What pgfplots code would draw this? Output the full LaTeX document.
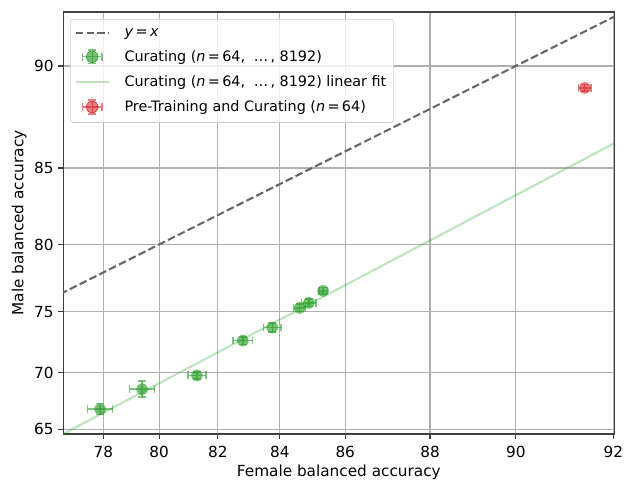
\documentclass[border=0pt]{standalone}
\usepackage{fontspec}
\setmainfont{DejaVu Sans}
\usepackage{pgfplots}
\pgfplotsset{compat=1.18}
\usepackage{pgfplotstable}

\definecolor{cgreen}{HTML}{2CA02C}
\definecolor{cred}{HTML}{D62728}
\definecolor{cgrid}{RGB}{176,176,176}
\definecolor{cdash}{RGB}{102,102,102}

% probit (inverse normal CDF) of a percentage, Abramowitz-Stegun 26.2.23 (values > 50 %)
\newcommand\pbprobit[1]{%
  \pgfmathparse{sqrt(-2*ln(1-(#1)/100))}%
  \edef\pbT{\pgfmathresult}%
  \pgfmathparse{\pbT-(2.515517+0.802853*\pbT+0.010328*\pbT*\pbT)/(1+1.432788*\pbT+0.189269*\pbT*\pbT+0.001308*\pbT*\pbT*\pbT)}%
}

\pgfplotstableread{
x y
77.87 66.81
79.38 68.58
81.25 69.78
82.74 72.70
83.65 73.76
84.47 75.31
84.74 75.70
85.15 76.62
}\curating

\pgfplotstableread{
x y
91.40 89.00
}\pretrain

\begin{document}
\begin{tikzpicture}
\useasboundingbox (-45.6pt,-33.1pt) rectangle (404.4pt,312.4pt);
\begin{axis}[
  at={(0,0)}, anchor=south west,
  scale only axis,
  width=396.7pt, height=303.8pt,
  x coord trafo/.code={\pbprobit{#1}},
  y coord trafo/.code={\pbprobit{#1}},
  xmin=76.5, xmax=92.02,
  ymin=64.57, ymax=92.2,
  xtick={78,80,82,84,86,88,90,92},
  xticklabels={78,80,82,84,86,88,90,92},
  ytick={65,70,75,80,85,90},
  yticklabels={65,70,75,80,85,90},
  /pgf/number format/assume math mode=true,
  tick label style={font=\fontsize{11}{13}\selectfont},
  xticklabel style={yshift=-1.5pt},
  label style={font=\fontsize{11}{13}\selectfont},
  xlabel style={yshift=1.5pt},
  ylabel style={yshift=-1.5pt},
  xlabel={Female balanced accuracy},
  ylabel={Male balanced accuracy},
  grid=major,
  major grid style={cgrid, line width=0.8pt},
  axis line style={black!75, line width=0.9pt},
  tick style={black!75, line width=0.8pt},
  tick align=outside,
  major tick length=3.5pt,
  xtick pos=bottom, ytick pos=left,
  clip=true,
  unbounded coords=jump,
  legend cell align=left,
  legend style={
    at={(0.0122,0.9834)}, anchor=north west,
    draw=black!20, fill=white, fill opacity=0.8, text opacity=1,
    rounded corners=2pt,
    font=\fontsize{10.35}{12.3}\selectfont,
    row sep=4.7pt, inner xsep=3pt, inner ysep=4.5pt,
    /tikz/every odd column/.append style={column sep=8.5pt},
  },
]
\addplot[cdash, line width=1.5pt, dash pattern=on 5.5pt off 2.4pt,
  legend image code/.code={\draw[cdash, line width=1.5pt, dash pattern=on 5.5pt off 2.4pt] (0pt,0pt)--(24pt,0pt);}]
  coordinates {(76.0,76.0) (93.0,93.0)};
\addlegendentry{\textit{y}\,=\,\textit{x}}

\addplot[only marks, mark=*, mark size=4.2pt,
  mark options={draw=cgreen, draw opacity=0, fill=cgreen, fill opacity=0.65},
  legend image code/.code={
    \fill[cgreen, fill opacity=0.65] (12pt,0pt) circle (4.2pt);
    \draw[cgreen, opacity=0.6, line width=1pt] (5pt,0pt)--(19pt,0pt) (12pt,-5pt)--(12pt,5pt)
      (5pt,-2.8pt)--(5pt,2.8pt) (19pt,-2.8pt)--(19pt,2.8pt) (9.2pt,-5pt)--(14.8pt,-5pt) (9.2pt,5pt)--(14.8pt,5pt);
  }]
  table[x=x, y=y] {\curating};
\addlegendentry{Curating (\textit{n}\,=\,64,\; \ldots\,, 8192)}

% horizontal error bars (Curating)
\addplot[forget plot, cgreen, opacity=0.6, line width=1pt, mark=|, mark size=2.8pt, mark options={solid}, empty line=jump]
  table {
x y
77.41 66.81
78.33 66.81

78.94 68.58
79.82 68.58

80.95 69.78
81.55 69.78

82.43 72.70
83.05 72.70

83.39 73.76
83.91 73.76

84.29 75.31
84.65 75.31

84.53 75.70
84.95 75.70

85.03 76.62
85.27 76.62
};
% vertical error bars (Curating)
\addplot[forget plot, cgreen, opacity=0.6, line width=1pt, mark=-, mark size=2.8pt, mark options={solid}, empty line=jump]
  table {
x y
77.87 66.31
77.87 67.31

79.38 67.88
79.38 69.28

81.25 69.48
81.25 70.08

82.74 72.40
82.74 73.00

83.65 73.41
83.65 74.11

84.47 75.01
84.47 75.61

84.74 75.40
84.74 76.00

85.15 76.37
85.15 76.87
};

\addplot[cgreen, opacity=0.3, line width=1.5pt,
  legend image code/.code={\draw[cgreen, opacity=0.3, line width=1.5pt] (0pt,0pt)--(24pt,0pt);}]
  coordinates {(76.5,64.57) (92.02,86.32)};
\addlegendentry{Curating (\textit{n}\,=\,64,\; \ldots\,, 8192) linear fit}

\addplot[only marks, mark=*, mark size=4.2pt,
  mark options={draw=cred, draw opacity=0, fill=cred, fill opacity=0.6},
  legend image code/.code={
    \fill[cred, fill opacity=0.6] (12pt,0pt) circle (4.2pt);
    \draw[cred, opacity=0.6, line width=1pt] (5pt,0pt)--(19pt,0pt) (12pt,-5pt)--(12pt,5pt)
      (5pt,-2.8pt)--(5pt,2.8pt) (19pt,-2.8pt)--(19pt,2.8pt) (9.2pt,-5pt)--(14.8pt,-5pt) (9.2pt,5pt)--(14.8pt,5pt);
  }]
  table[x=x, y=y] {\pretrain};
\addlegendentry{Pre-Training and Curating (\textit{n}\,=\,64)}

\addplot[forget plot, cred, opacity=0.6, line width=1pt, mark=|, mark size=2.8pt, mark options={solid}]
  coordinates {(91.28,89.00) (91.52,89.00)};
\addplot[forget plot, cred, opacity=0.6, line width=1pt, mark=-, mark size=2.8pt, mark options={solid}]
  coordinates {(91.40,88.85) (91.40,89.15)};
\end{axis}
\end{tikzpicture}
\end{document}
